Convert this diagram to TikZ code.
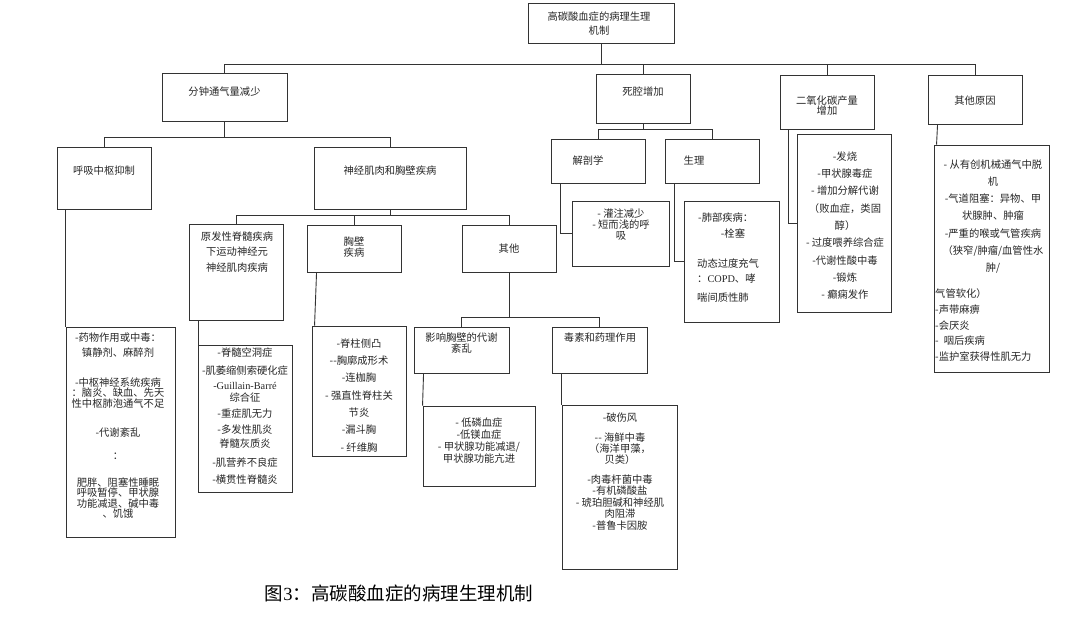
\documentclass[tikz,border=0pt]{standalone}
\usepackage{fontspec}
\newfontfamily\cjk{Noto Sans CJK SC}
\newfontfamily\latin{Liberation Serif}
\usetikzlibrary{positioning}

\begin{document}
\begin{tikzpicture}[x=1pt, y=-1pt,
		box/.style={draw=black!80, line width=0.9pt, inner sep=0pt},
		txt/.style={anchor=north, inner sep=0pt, align=center, text=black!85, font=\cjk\fontsize{10.3}{12}\selectfont},
		lead/.style={font=\cjk\fontsize{10.3}{#1}\selectfont},
		link/.style={draw=black!80, line width=0.9pt}]
			\useasboundingbox (0,0) rectangle (1080,620);
			% Root
			\node[box, minimum width=146pt, minimum height=40pt] (root) at (601,23) {};
			% Causes
			\node[box, minimum width=125pt, minimum height=48pt] (fenzhong) at (224.5,97) {};
			\node[box, minimum width=94pt, minimum height=49pt] (sigiang) at (643,98.5) {};
			\node[box, minimum width=94pt, minimum height=54pt] (co2) at (827,102) {};
			\node[box, minimum width=94pt, minimum height=49pt] (qita) at (975,99.5) {};
			% Second level
			\node[box, minimum width=94pt, minimum height=62pt] (huxi) at (104,178) {};
			\node[box, minimum width=152pt, minimum height=62pt] (shenjing) at (390,178) {};
			\node[box, minimum width=94pt, minimum height=44pt] (jiepou) at (598,161) {};
			\node[box, minimum width=94pt, minimum height=44pt] (shengli) at (712,161) {};
			% Third level
			\node[box, minimum width=94pt, minimum height=96pt] (yuanfa) at (236,272) {};
			\node[box, minimum width=94pt, minimum height=47pt] (xiongbi) at (354,248.5) {};
			\node[box, minimum width=94pt, minimum height=47pt] (qita2) at (509,248.5) {};
			\node[box, minimum width=95pt, minimum height=46pt] (yingxiang) at (461.5,350) {};
			\node[box, minimum width=95pt, minimum height=46pt] (dusu) at (599.5,350) {};
			% Lists
			\node[box, minimum width=109pt, minimum height=210pt] (yaowu) at (120.5,432) {};
			\node[box, minimum width=94pt, minimum height=147pt] (jisui) at (245,418.5) {};
			\node[box, minimum width=94pt, minimum height=130pt] (jizhu) at (359,391) {};
			\node[box, minimum width=112pt, minimum height=80pt] (dilin) at (479,446) {};
			\node[box, minimum width=115pt, minimum height=164pt] (poshang) at (619.5,487) {};
			\node[box, minimum width=97pt, minimum height=65pt] (guanzhu) at (620.5,233.5) {};
			\node[box, minimum width=95pt, minimum height=121pt] (feibu) at (731.5,261.5) {};
			\node[box, minimum width=94pt, minimum height=178pt] (fashao) at (844,223) {};
			\node[box, minimum width=115pt, minimum height=227pt] (congyou) at (991.5,258.5) {};
			% Texts
			\node[txt, lead=14] (rootT) at (599,11.5) {高碳酸血症的病理生理\\机制};
			\node[txt] (fenzhongT) at (224.5,86.5) {分钟通气量减少};
			\node[txt] (sigiangT) at (643,86.5) {死腔增加};
			\node[txt, lead=10.5] (co2T) at (827,95.5) {二氧化碳产量\\增加};
			\node[txt] (qitaT) at (975,95.5) {其他原因};
			\node[txt] (huxiT) at (104,165.5) {呼吸中枢抑制};
			\node[txt] (shenjingT) at (390,165.5) {神经肌肉和胸壁疾病};
			\node[txt] (jiepouT) at (588,156) {解剖学};
			\node[txt] (shengliT) at (694,156) {生理};
			\node[txt, lead=15.5] (yuanfaT) at (237,231.5) {原发性脊髓疾病\\下运动神经元\\神经肌肉疾病};
			\node[txt, lead=11] (xiongbiT) at (354,236.5) {胸壁\\疾病};
			\node[txt] (qita2T) at (509,243.5) {其他};
			\node[txt, lead=11.5] (yingxiangT) at (461.5,332.5) {影响胸壁的代谢\\紊乱};
			\node[txt] (dusuT) at (600,332.5) {毒素和药理作用};
			\node[txt, lead=10.5] (yaowuT) at (118,332.5) {-药物作用或中毒：\\[4.5pt]镇静剂、麻醉剂\\[19.5pt]-中枢神经系统疾病\\：脑炎、缺血、先天\\性中枢肺泡通气不足\\[18.5pt]-代谢紊乱\\[12.5pt]：\\[16.5pt]肥胖、阻塞性睡眠\\呼吸暂停、甲状腺\\功能减退、碱中毒\\、饥饿};
			\node[txt, lead=12] (jisuiT) at (245,347.5) {-脊髓空洞症\\[6pt]-肌萎缩侧索硬化症\\[3pt]{\latin -Guillain-Barré}\\综合征\\[4pt]-重症肌无力\\[4pt]-多发性肌炎\\[2pt]脊髓灰质炎\\[7pt]-肌营养不良症\\[5pt]-横贯性脊髓炎};
			\node[txt, lead=17.3] (jizhuT) at (359,338.5) {-脊柱侧凸\\-{}-胸廓成形术\\-连枷胸\\- 强直性脊柱关\\节炎\\-漏斗胸\\- 纤维胸};
			\node[txt, lead=12] (dilinT) at (479,417.5) {- 低磷血症\\-低镁血症\\- 甲状腺功能减退/\\甲状腺功能亢进};
			\node[txt, lead=11.5] (poshangT) at (620,412.5) {-破伤风\\[8.5pt]-{}- 海鲜中毒\\（海洋甲藻，\\[-1pt]贝类）\\[8.5pt]-肉毒杆菌中毒\\-有机磷酸盐\\- 琥珀胆碱和神经肌\\肉阻滞\\-普鲁卡因胺};
			\node[txt, lead=11] (guanzhuT) at (621,208.5) {- 灌注减少\\- 短而浅的呼\\吸};
			\node[txt, anchor=north west] (feibuT1) at (698,212.5) {-肺部疾病：};
			\node[txt] (feibuT2) at (733,228.5) {-栓塞};
			\node[txt, anchor=north west, align=left, lead=15] (feibuT3) at (697,258.5) {动态过度充气\\：{\latin COPD}、哮\\[4pt]喘间质性肺};
			\node[txt, lead=17.3] (fashaoT) at (845,151.5) {-发烧\\-甲状腺毒症\\- 增加分解代谢\\（败血症，类固\\醇）\\- 过度喂养综合症\\-代谢性酸中毒\\-锻炼\\- 癫痫发作};
			\node[txt, lead=17.2] (congyouT1) at (993,159.5) {- 从有创机械通气中脱\\机\\-气道阻塞：异物、甲\\状腺肿、肿瘤\\-严重的喉或气管疾病\\（狭窄/肿瘤/血管性水\\肿/};
			\node[txt, anchor=north west, align=left, lead=15.75] (congyouT2) at (935,288.5) {气管软化）\\-声带麻痹\\-会厌炎\\-\hspace{5pt}咽后疾病\\-监护室获得性肌无力};
			% Caption
			\node[inner sep=0pt, text=black, font=\cjk\fontsize{18.5}{20}\selectfont] (caption) at (399,593) {图{\latin 3}：高碳酸血症的病理生理机制};
			% Links root
			\draw[link] (root.south) -- ++(0,21) -| (fenzhong.north);
			\draw[link] (root.south) -- ++(0,21) -| (sigiang.north);
			\draw[link] (root.south) -- ++(0,21) -| (co2.north);
			\draw[link] (root.south) -- ++(0,21) -| (qita.north);
			% Links minute ventilation
			\draw[link] (fenzhong.south) -- ++(0,16) -| (huxi.north);
			\draw[link] (fenzhong.south) -- ++(0,16) -| (shenjing.north);
			\draw[link] (yaowu.north west |- huxi.south) -- (yaowu.north west);
			\draw[link] (shenjing.south) -- ++(0,6) -| (yuanfa.north);
			\draw[link] (shenjing.south) -- ++(0,6) -| (xiongbi.north);
			\draw[link] (shenjing.south) -- ++(0,6) -| (qita2.north);
			\draw[link] ([xshift=1pt]jisui.north west |- yuanfa.south) -- ([xshift=1pt]jisui.north west);
			\draw[link] ([xshift=10pt]xiongbi.south west) -- ([xshift=3pt]jizhu.north west);
			\draw[link] (qita2.south) -- ++(0,45) -| (yingxiang.north);
			\draw[link] (qita2.south) -- ++(0,45) -| (dusu.north);
			\draw[link] ([xshift=10pt]yingxiang.south west) -- (dilin.north west);
			\draw[link] (poshang.north west |- dusu.south) -- (poshang.north west);
			% Links dead space
			\draw[link] (sigiang.south) -- ++(0,6) -| (jiepou.north);
			\draw[link] (sigiang.south) -- ++(0,6) -| (shengli.north);
			\draw[link] ([xshift=10pt]jiepou.south west) |- (guanzhu.west);
			\draw[link] ([xshift=10pt]shengli.south west) |- (feibu.west);
			% Links CO2 and others
			\draw[link] ([xshift=9pt]co2.south west) |- (fashao.west);
			\draw[link] ([xshift=10pt]qita.south west) -- ([xshift=3pt]congyou.north west);
		\end{tikzpicture}
\end{document}
